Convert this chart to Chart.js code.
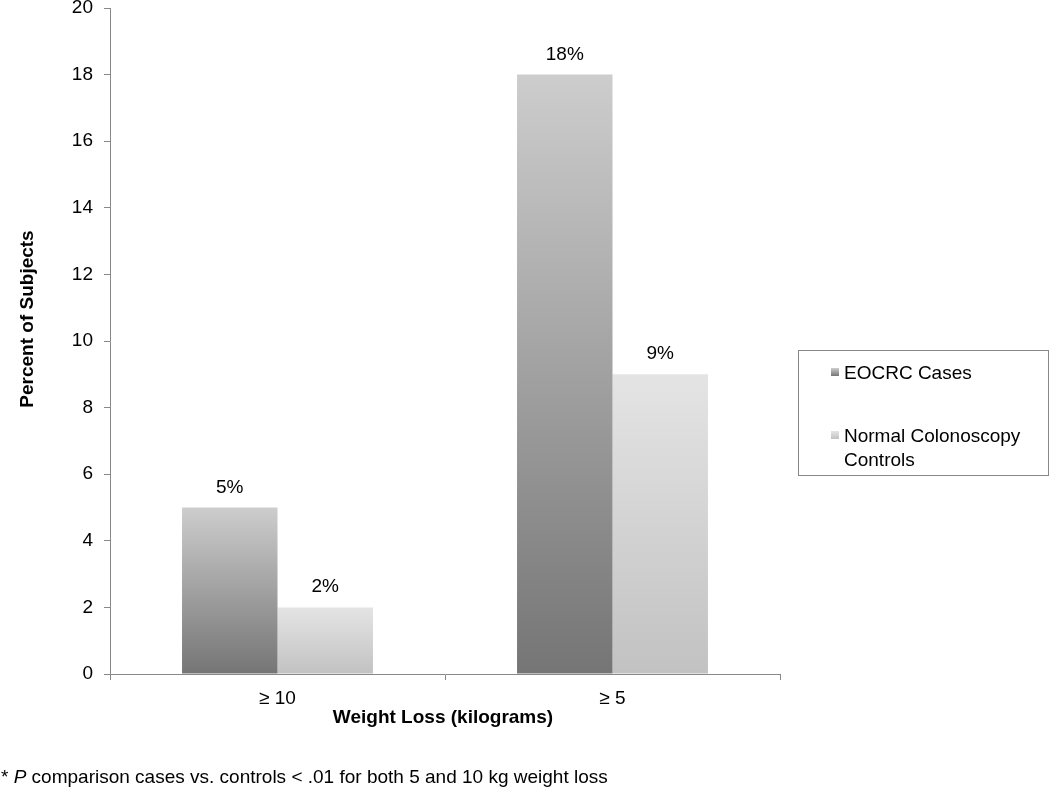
<!DOCTYPE html>
<html>
<head>
<meta charset="utf-8">
<script src="https://cdn.jsdelivr.net/npm/chart.js@4"></script>
<style>
  html, body { margin: 0; padding: 0; background: #fff; }
  #wrap { width: 1050px; height: 788px; }
</style>
</head>
<body>
<div id="wrap"><canvas id="chart" width="1050" height="788"></canvas></div>
<script>
const categories = ["\u2265 10", "\u2265 5"];
const seriesNames = ["EOCRC Cases", "Normal Colonoscopy Controls"];
const casesValues = [5, 18];
const controlValues = [2, 9];
const yTicks = [0, 2, 4, 6, 8, 10, 12, 14, 16, 18, 20];

// bottom / top colours of each series gradient
const barShades = [
  ["#757575", "#cdcdcd"],
  ["#c2c2c2", "#e4e4e4"]
];

const FONT = "'Liberation Sans', Arial, sans-serif";
const chart = document.querySelector("#chart").getContext('2d');

function barFill(ctx) {
  const c = ctx.chart;
  const shades = barShades[ctx.datasetIndex];
  if (!c.chartArea || ctx.raw === undefined) return shades[0];
  const y = c.scales.y;
  const g = c.ctx.createLinearGradient(0, y.getPixelForValue(0), 0, y.getPixelForValue(ctx.raw));
  g.addColorStop(0, shades[0]);
  g.addColorStop(1, shades[1]);
  return g;
}

// value labels above each bar
const valueLabels = {
  id: 'valueLabels',
  afterDatasetsDraw(c) {
    const ctx = c.ctx;
    ctx.save();
    ctx.font = "19px " + FONT;
    ctx.fillStyle = "#000";
    ctx.textAlign = "center";
    ctx.textBaseline = "alphabetic";
    c.data.datasets.forEach((ds, i) => {
      c.getDatasetMeta(i).data.forEach((bar, j) => {
        ctx.fillText(ds.data[j] + "%", bar.x, bar.y - 15);
      });
    });
    ctx.restore();
  }
};

// axis titles, boxed legend on the right and the footnote
const extras = {
  id: 'extras',
  afterDraw(c) {
    const ctx = c.ctx;
    ctx.save();
    ctx.fillStyle = "#000";

    // axis titles
    ctx.font = "bold 19px " + FONT;
    ctx.textAlign = "center";
    ctx.textBaseline = "middle";
    ctx.fillText("Weight Loss (kilograms)", 443, 718);
    ctx.save();
    ctx.translate(28, 319);
    ctx.rotate(-Math.PI / 2);
    ctx.fillText("Percent of Subjects", 0, 0);
    ctx.restore();

    // legend
    ctx.textAlign = "left";
    ctx.strokeStyle = "#888";
    ctx.lineWidth = 1;
    ctx.strokeRect(798.5, 350.5, 250, 125);
    ctx.font = "19px " + FONT;
    ctx.textBaseline = "alphabetic";
    const rows = [[379], [442, 466]];
    const lines = [["EOCRC Cases"], ["Normal Colonoscopy", "Controls"]];
    rows.forEach((ys, i) => {
      const top = ys[0] - 11;
      const g = ctx.createLinearGradient(0, top + 8, 0, top);
      g.addColorStop(0, barShades[i][0]);
      g.addColorStop(1, barShades[i][1]);
      ctx.fillStyle = g;
      ctx.fillRect(831, top, 8, 8);
      ctx.fillStyle = "#000";
      ys.forEach((yy, k) => ctx.fillText(lines[i][k], 844, yy));
    });

    // footnote
    ctx.font = "19px " + FONT;
    let x = 1;
    const y0 = 783;
    ctx.fillText("* ", x, y0);
    x += ctx.measureText("* ").width;
    ctx.font = "italic 19px " + FONT;
    ctx.fillText("P", x, y0);
    x += ctx.measureText("P").width;
    ctx.font = "19px " + FONT;
    ctx.fillText(" comparison cases vs. controls < .01 for both 5 and 10 kg weight loss", x, y0);
    ctx.restore();
  }
};

new Chart(chart, {
  type: 'bar',
  data: {
    labels: categories,
    datasets: [
      {
        label: seriesNames[0],
        data: casesValues,
        backgroundColor: barFill,
        borderWidth: 0
      },
      {
        label: seriesNames[1],
        data: controlValues,
        backgroundColor: barFill,
        borderWidth: 0
      }
    ]
  },
  options: {
    responsive: false,
    animation: false,
    layout: { padding: { top: 8, right: 270, bottom: 44, left: 0 } },
    plugins: {
      legend: { display: false },
      tooltip: { enabled: false }
    },
    datasets: {
      bar: { categoryPercentage: 0.57, barPercentage: 1.0 }
    },
    scales: {
      x: {
        grid: { drawOnChartArea: false, tickLength: 6, color: "#888", offset: true },
        border: { color: "#888" },
        ticks: { color: "#000", font: { family: FONT, size: 19 }, padding: 7 },
        afterFit(s) { s.height = 70; s.paddingLeft = 0; s.paddingRight = 0; }
      },
      y: {
        min: 0,
        max: 20,
        afterBuildTicks(s) { s.ticks = yTicks.map(v => ({ value: v })); },
        grid: { drawOnChartArea: false, tickLength: 6, color: "#888" },
        border: { color: "#888" },
        ticks: { color: "#000", font: { family: FONT, size: 19 }, padding: 11 },
        afterFit(s) { s.width = 110; s.paddingTop = 0; s.paddingBottom = 0; }
      }
    }
  },
  plugins: [valueLabels, extras]
});
</script>
</body>
</html>
